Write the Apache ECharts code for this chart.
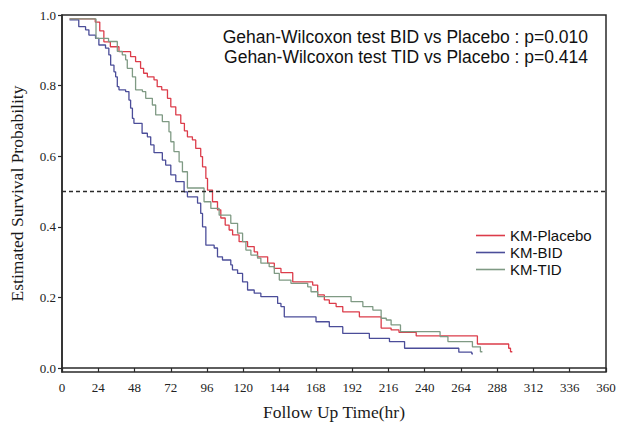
<!DOCTYPE html>
<html>
<head>
<meta charset="utf-8">
<script src="https://cdn.jsdelivr.net/npm/echarts@6/dist/echarts.min.js"></script>
<style>
html,body{margin:0;padding:0;background:#fff;}
#chart{width:625px;height:426px;}
</style>
</head>
<body>
<div id="chart"></div>
<script>
// ---- data (time in hours, estimated survival probability after each step) ----
const seriesNames = ['KM-Placebo', 'KM-BID', 'KM-TID'];

const placeboTime = [5, 22, 25, 27.7, 32, 37.7, 45.4, 48.7, 52, 54, 56.5, 60.9, 63, 66, 69.8, 72, 75.3, 78.6, 81, 83, 86.3, 88.5, 91.8, 93, 95.2, 96.3, 99.6, 102.9, 105.1, 108, 110.6, 112.9, 117.2, 122.8, 127.2, 129.4, 136.1, 140.5, 144.9, 152.7, 165.9, 169.2, 173.6, 176.9, 181.4, 185.8, 196.8, 211.2, 217.8, 223, 234.4, 274.9, 295.6, 296.8, 298];
const placeboSurv = [0.989, 0.98, 0.955, 0.924, 0.91, 0.896, 0.882, 0.868, 0.849, 0.835, 0.825, 0.816, 0.797, 0.788, 0.764, 0.74, 0.717, 0.693, 0.672, 0.655, 0.646, 0.622, 0.599, 0.57, 0.537, 0.504, 0.471, 0.448, 0.425, 0.405, 0.391, 0.377, 0.358, 0.344, 0.329, 0.315, 0.297, 0.282, 0.27, 0.244, 0.235, 0.207, 0.193, 0.183, 0.174, 0.159, 0.145, 0.113, 0.108, 0.101, 0.091, 0.068, 0.056, 0.046, 0.046];

const bidTime = [5, 11.1, 15.6, 17.8, 22.2, 24.4, 28.8, 31, 32.2, 34.4, 35.5, 36.6, 37.7, 42.1, 44.3, 45.4, 46.6, 47.6, 53, 56.5, 58.7, 60.9, 66.4, 68.6, 72, 75.3, 80.8, 83, 89.7, 91.8, 93, 95.2, 100.7, 102.9, 106.2, 111.7, 112.8, 116.2, 119.5, 122.8, 127.2, 131.6, 142.7, 144.9, 147.1, 168.1, 176.9, 185.8, 203.4, 216.7, 226.7, 262.6, 271.2, 272];
const bidSurv = [0.986, 0.967, 0.958, 0.943, 0.934, 0.915, 0.906, 0.887, 0.858, 0.839, 0.825, 0.797, 0.788, 0.783, 0.759, 0.736, 0.707, 0.693, 0.665, 0.655, 0.632, 0.61, 0.589, 0.575, 0.547, 0.528, 0.499, 0.485, 0.467, 0.438, 0.4, 0.348, 0.34, 0.315, 0.306, 0.292, 0.278, 0.268, 0.244, 0.221, 0.212, 0.202, 0.183, 0.174, 0.145, 0.131, 0.117, 0.098, 0.084, 0.075, 0.056, 0.045, 0.04, 0.04];

const tidTime = [5, 22.5, 30.8, 36.6, 39.9, 42.1, 43.2, 46.6, 48.7, 53.2, 55.4, 59.8, 62, 66.4, 70.8, 72, 74.1, 77.5, 79.7, 83, 94, 98.5, 104, 111.7, 116.2, 119.5, 121.7, 125, 129.4, 131.6, 137.1, 140.5, 143.8, 151.5, 162.6, 164.8, 169.2, 191.3, 199.1, 205.7, 211.2, 214.6, 217.8, 224, 250.2, 255.4, 271.6, 276.9, 278.2];
const tidSurv = [0.989, 0.934, 0.925, 0.897, 0.887, 0.873, 0.849, 0.825, 0.788, 0.783, 0.764, 0.745, 0.717, 0.698, 0.669, 0.641, 0.613, 0.584, 0.556, 0.51, 0.471, 0.452, 0.433, 0.41, 0.382, 0.358, 0.334, 0.32, 0.311, 0.297, 0.287, 0.268, 0.249, 0.24, 0.23, 0.216, 0.202, 0.188, 0.174, 0.164, 0.141, 0.136, 0.122, 0.103, 0.089, 0.075, 0.06, 0.046, 0.046];

const yTicks = [0, 0.2, 0.4, 0.6, 0.8, 1.0];
const medianLine = 0.5;
const testLines = [
  'Gehan-Wilcoxon test BID vs Placebo : p=0.010',
  'Gehan-Wilcoxon test TID vs Placebo : p=0.414'
];

// ---- chart ----
const zip = (t, s) => t.map((v, i) => [v, s[i]]);
const colors = ['#dc3c4a', '#4b4d99', '#7f9a84'];

const chart = echarts.init(document.getElementById('chart'), null, {renderer: 'svg'});

const serifFont = 'Liberation Serif';
const sansFont = 'Liberation Sans';

const option = {
  animation: false,
  backgroundColor: '#ffffff',
  color: colors,
  grid: {
    left: 61, right: 19, top: 15, bottom: 54,
    show: true, borderColor: '#2a2a2a', borderWidth: 1.5, backgroundColor: 'transparent'
  },
  xAxis: {
    type: 'value', min: 0, max: 360, interval: 24,
    name: 'Follow Up Time(hr)', nameLocation: 'middle', nameGap: 31,
    nameTextStyle: {fontFamily: serifFont, fontSize: 17.5, color: '#1a1a1a'},
    axisLine: {show: true, lineStyle: {color: '#2a2a2a', width: 1.5}},
    axisTick: {show: true, length: 4, lineStyle: {color: '#2a2a2a', width: 1.2}},
    axisLabel: {fontFamily: serifFont, fontSize: 13, color: '#222', margin: 9},
    splitLine: {show: false}
  },
  yAxis: {
    type: 'value', min: -0.0113, max: 1.0,
    name: 'Estimated Survival Probability', nameLocation: 'middle', nameGap: 36,
    nameTextStyle: {fontFamily: serifFont, fontSize: 17.5, color: '#1a1a1a'},
    axisLine: {show: true, lineStyle: {color: '#2a2a2a', width: 1.5}},
    axisTick: {show: true, length: 4, customValues: yTicks, lineStyle: {color: '#2a2a2a', width: 1.2}},
    axisLabel: {fontFamily: serifFont, fontSize: 13, color: '#222', margin: 6,
      customValues: yTicks, formatter: v => v.toFixed(1)},
    splitLine: {show: false}
  },
  legend: {
    orient: 'vertical', left: 471, top: 223, itemWidth: 29, itemHeight: 1.6, itemGap: 2,
    icon: 'rect',
    textStyle: {fontFamily: sansFont, fontSize: 15, lineHeight: 15, color: '#111'},
    data: seriesNames
  },
  graphic: testLines.map((txt, i) => ({
    type: 'text', x: 588, y: 37 + i * 20,
    style: {text: txt, fontFamily: sansFont, fontSize: 17.5, fill: '#111',
      align: 'right', verticalAlign: 'middle'}
  })),
  series: [
    {
      name: seriesNames[0], type: 'line', step: 'end', symbol: 'none',
      lineStyle: {width: 1.3}, data: zip(placeboTime, placeboSurv),
      markLine: {
        silent: true, symbol: 'none', label: {show: false},
        lineStyle: {color: '#2a2a2a', type: [4, 3], width: 1.3},
        data: [{yAxis: medianLine}]
      }
    },
    {name: seriesNames[1], type: 'line', step: 'end', symbol: 'none',
      lineStyle: {width: 1.3}, data: zip(bidTime, bidSurv)},
    {name: seriesNames[2], type: 'line', step: 'end', symbol: 'none',
      lineStyle: {width: 1.3}, data: zip(tidTime, tidSurv)}
  ]
};
chart.setOption(option);
</script>
</body>
</html>
